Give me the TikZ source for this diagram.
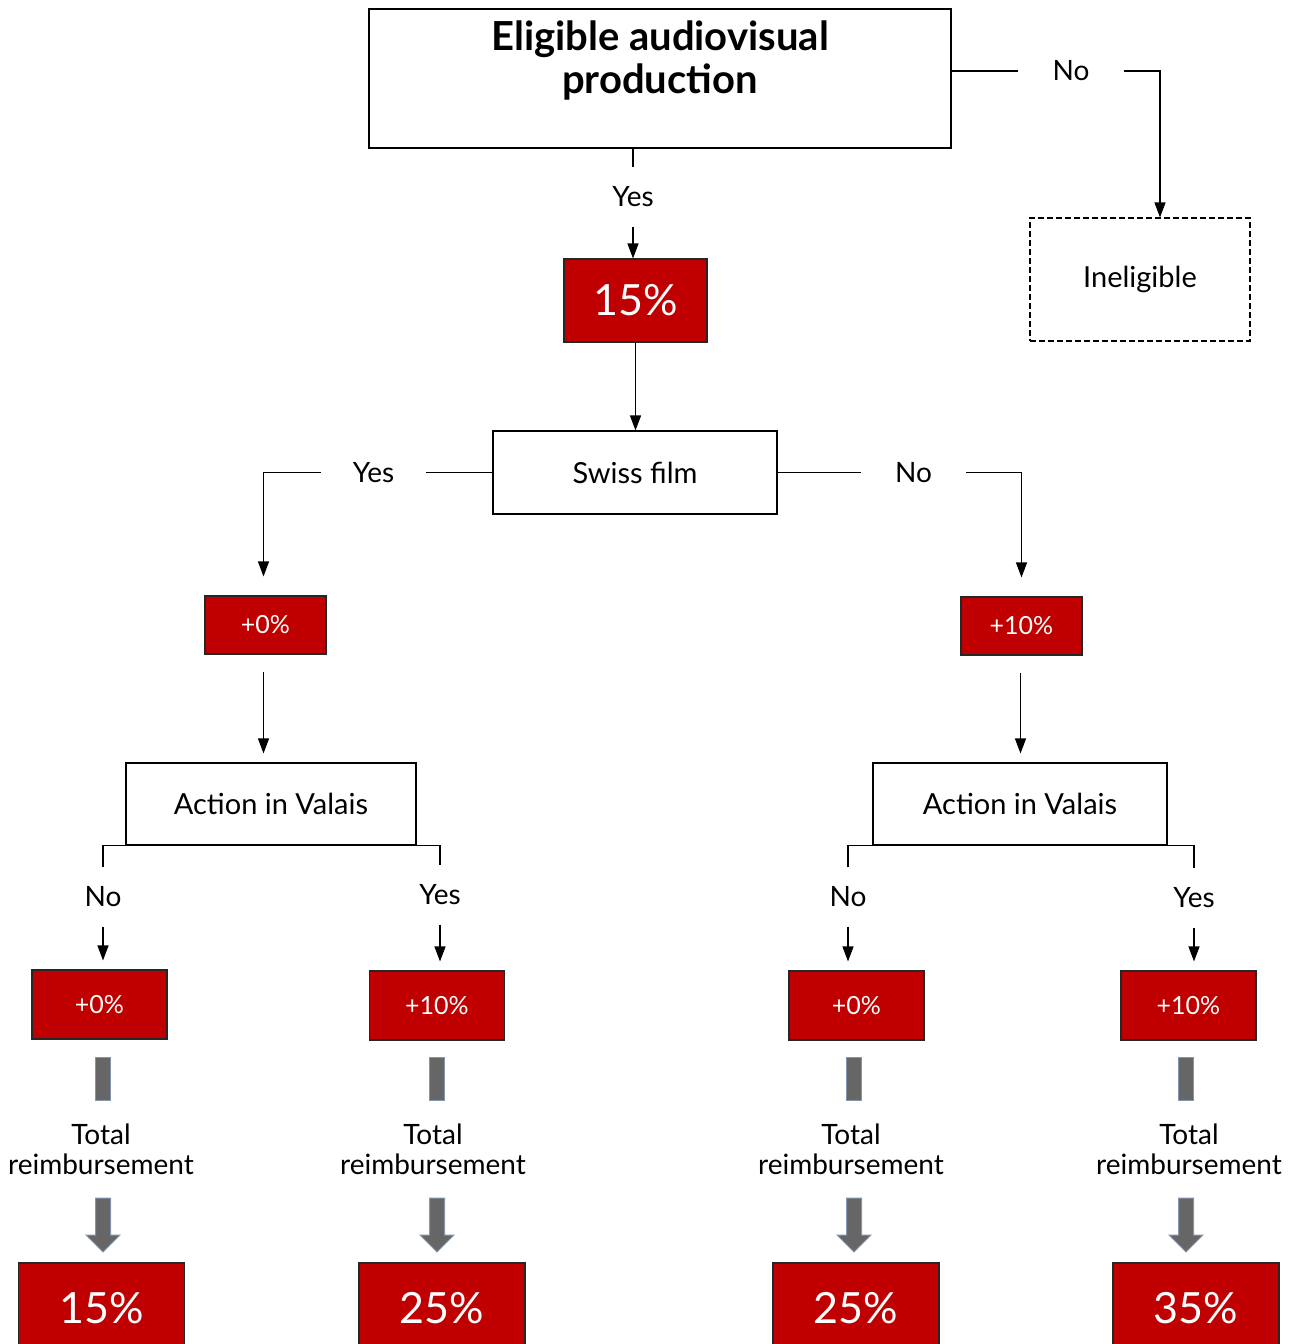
\documentclass[tikz,border=0pt]{standalone}
\usepackage{fontspec}
\setmainfont{Lato}
\usepackage{xcolor}
\usetikzlibrary{arrows.meta}
\definecolor{boxred}{HTML}{C00000}
\definecolor{bargray}{HTML}{666666}
\definecolor{baredge}{HTML}{8497B0}

\begin{document}
\begin{tikzpicture}[x=1pt,y=-1pt,line width=1.1pt,
		box/.style={draw=black, fill=white, font=\fontsize{29}{33}\selectfont},
		redbox/.style={draw=black!85, fill=boxred, text=white},
		smallpct/.style={font=\fontsize{25}{29}\selectfont},
		bigpct/.style={font=\fontsize{43}{47}\selectfont},
		lbl/.style={minimum width=104pt, minimum height=58pt, inner sep=0pt, font=\fontsize{28}{32}\selectfont},
		arr/.style={-{Triangle[width=11pt,length=15pt]}}]
		\useasboundingbox (0,0) rectangle (1297,1344);
		% decision boxes
		\node[box, minimum width=582pt, minimum height=139pt] (top) at (660,78.5) {};
		\node[align=center, font=\fontsize{40}{43}\selectfont\bfseries] (title) at (660,60) {Eligible audiovisual\\production};
		\node[box, dash pattern=on 6pt off 3pt, minimum width=220pt, minimum height=123pt] (inel) at (1140,279.5) {Ineligible};
		\node[redbox, bigpct, minimum width=143pt, minimum height=83pt] (base) at (635.5,300.5) {15\%};
		\node[box, minimum width=284pt, minimum height=83pt] (swiss) at (635,472.5) {Swiss film};
		\node[redbox, smallpct, minimum width=121pt, minimum height=58pt] (chl) at (265.5,625) {+0\%};
		\node[redbox, smallpct, minimum width=121pt, minimum height=58pt] (chr) at (1021.5,626) {+10\%};
		\node[box, minimum width=290pt, minimum height=82pt] (vsl) at (271,804) {Action in Valais};
		\node[box, minimum width=294pt, minimum height=82pt] (vsr) at (1020,804) {Action in Valais};
		\node[redbox, smallpct, minimum width=135pt, minimum height=69pt] (a1) at (99.5,1004.5) {+0\%};
		\node[redbox, smallpct, minimum width=135pt, minimum height=69pt] (a2) at (437,1005.5) {+10\%};
		\node[redbox, smallpct, minimum width=135pt, minimum height=69pt] (a3) at (856.5,1005.5) {+0\%};
		\node[redbox, smallpct, minimum width=135pt, minimum height=69pt] (a4) at (1188.5,1005.5) {+10\%};
		% answers
		\node[lbl] (no1) at (1071,71) {No};
		\node[lbl] (yes1) at (633,197) {Yes};
		\node[lbl] (yes2) at (373.5,472.5) {Yes};
		\node[lbl] (no2) at (913.5,472.5) {No};
		\node[lbl] (nol) at (103,897) {No};
		\node[lbl] (yesl) at (440,895) {Yes};
		\node[lbl] (nor) at (848,897) {No};
		\node[lbl] (yesr) at (1194,898) {Yes};
		% connectors
		\draw (top.south -| yes1) -- (yes1.north);
		\draw[arr] (yes1.south) -- (yes1.south |- base.north);
		\draw (top.east |- no1) -- (no1.west);
		\draw[arr] (no1.east) -| ([xshift=20pt]inel.north);
		\draw[arr] (base.south) -- (base.south |- swiss.north);
		\draw (swiss.west) -- (yes2.east);
		\draw[arr, shorten >=19pt] (yes2.west) -| ([xshift=-2pt]chl.north);
		\draw (swiss.east) -- (no2.west);
		\draw[arr, shorten >=19pt] (no2.east) -| (chr.north);
		\draw[arr, shorten <=17pt, shorten >=9pt] ([xshift=-2pt]chl.south) -- ([xshift=-2pt]chl.south |- vsl.north);
		\draw[arr, shorten <=17pt, shorten >=9pt] ([xshift=-1pt]chr.south) -- ([xshift=-1pt]chr.south |- vsr.north);
		\draw (nol.north) |- (vsl.south) -| (yesl.north);
		\draw (nor.north) |- (vsr.south) -| (yesr.north);
		\draw[arr, shorten >=9pt] (nol.south) -- (nol.south |- a1.north);
		\draw[arr, shorten >=9pt] (yesl.south) -- (yesl.south |- a2.north);
		\draw[arr, shorten >=9pt] (nor.south) -- (nor.south |- a3.north);
		\draw[arr, shorten >=9pt] (yesr.south) -- (yesr.south |- a4.north);
		% totals
		\foreach \i/\x/\tx/\fx/\pct in {1/103/101/101.5/15, 2/437/433/442/25, 3/854/851/856/25, 4/1186/1189/1196/35} {
			\filldraw[fill=bargray, draw=baredge, line width=1pt] (\x-7.5,1057) rectangle (\x+7.5,1100);
			\node[align=center, font=\fontsize{28}{30}\selectfont] (t\i) at (\tx,1149) {Total\\reimbursement};
			\filldraw[fill=bargray, draw=baredge, line width=1pt] (\x-7.5,1198) -- (\x+7.5,1198) -- (\x+7.5,1235) -- (\x+17,1235) -- (\x,1252) -- (\x-17,1235) -- (\x-7.5,1235) -- cycle;
			\node[redbox, bigpct, minimum width=166pt, minimum height=90pt] (f\i) at (\fx,1308) {\pct\%};
		}
	\end{tikzpicture}
\end{document}
